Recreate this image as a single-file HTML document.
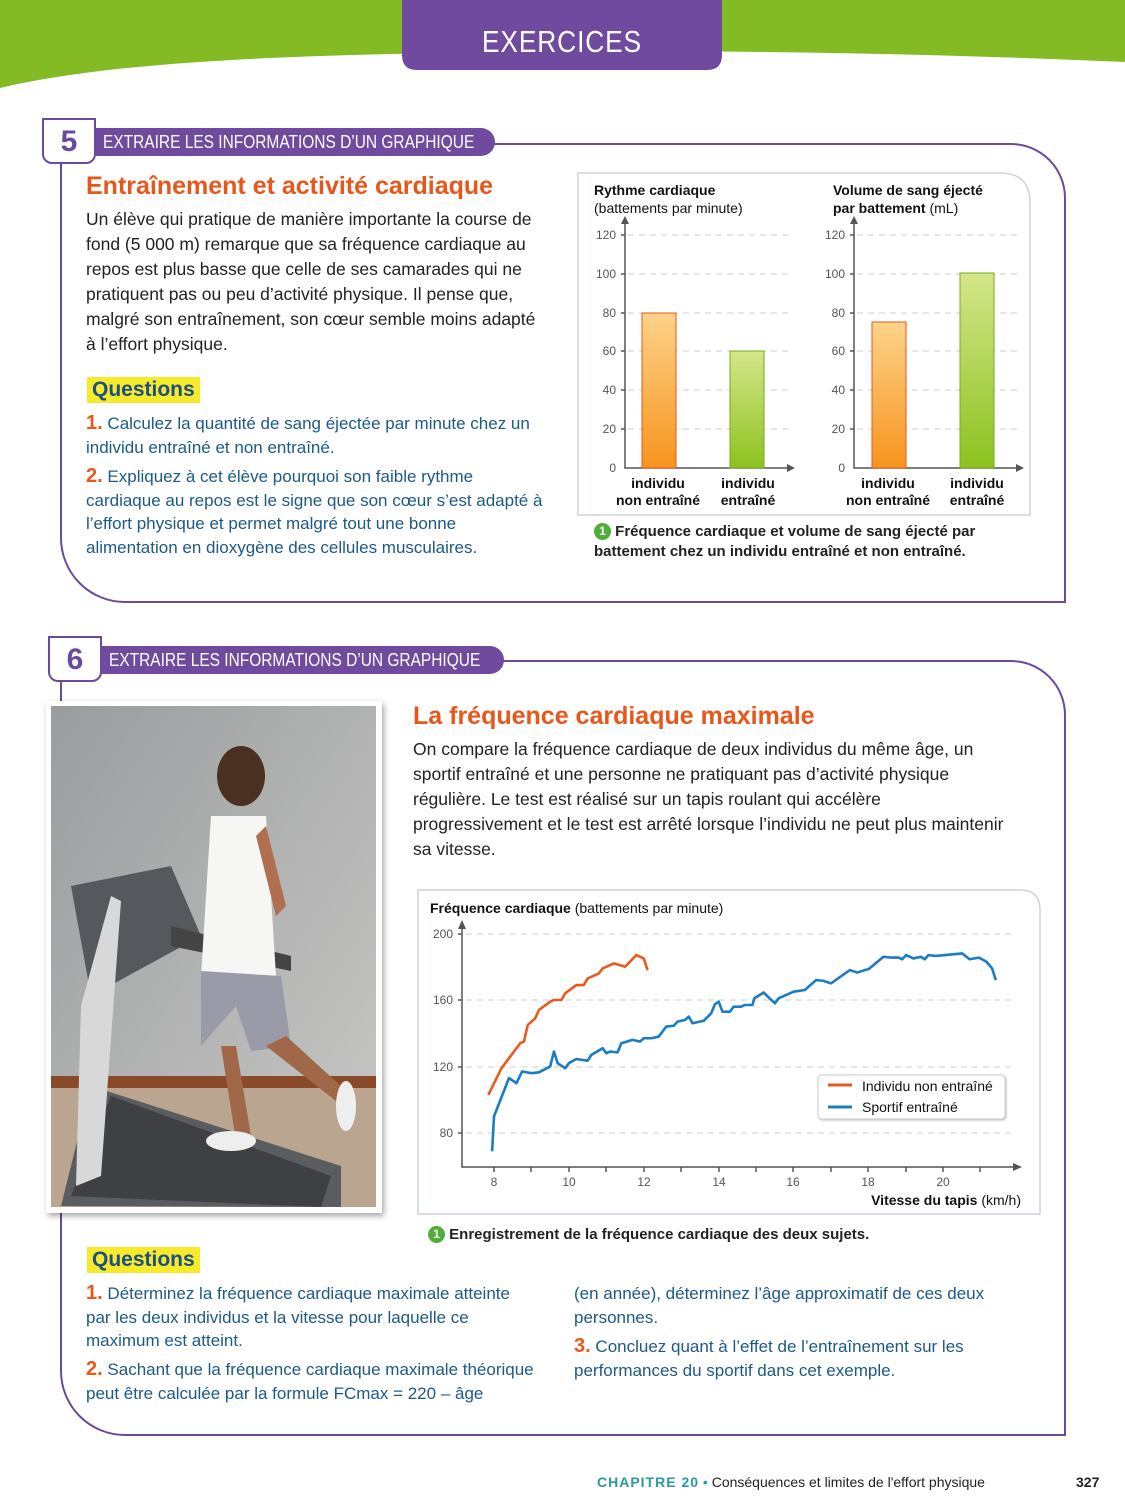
<!DOCTYPE html>
<html><head><meta charset="utf-8"><style>
*{margin:0;padding:0;box-sizing:border-box}
body{width:1125px;height:1500px;position:relative;background:#fff;font-family:"Liberation Sans","DejaVu Sans",sans-serif;overflow:hidden;color:#222}
.abs{position:absolute}
.frame{position:absolute;border:2px solid #6a4a9a}
.num{position:absolute;width:54px;height:46px;border:2px solid #6a4a9a;background:#fff;border-radius:0 0 10px 10px;font:bold 30px "Liberation Sans",sans-serif;color:#6a4a9a;text-align:center;line-height:44px}
.pill{position:absolute;height:28px;background:#6f4a9e;color:#fff;font-size:18px;line-height:28px;padding-left:8px;border-radius:0 14px 14px 0;white-space:nowrap;overflow:hidden}
.pill span{display:inline-block;transform:scaleX(0.86);transform-origin:left center}
.title{position:absolute;color:#e8571a;font:bold 25px "Liberation Sans",sans-serif;white-space:nowrap}
.txt{position:absolute;font-size:17.5px;line-height:25px;color:#222}
.q{position:absolute;font-size:17px;line-height:23.5px;color:#1c5a86}
.q b{color:#e8571a;font-size:20px}
.qh{position:absolute;background:#f6ea2a;color:#1c4f86;font:bold 21px "Liberation Sans",sans-serif;padding:0 5px;height:26px;line-height:26px}
.cap{position:absolute;font-size:15px;font-weight:bold;color:#222;line-height:20px}
.dot{display:inline-block;width:17px;height:17px;border-radius:50%;background:#4fae3a;color:#fff;font-size:12px;text-align:center;line-height:17px;vertical-align:1px}
</style></head><body>
<svg class="abs" style="left:0;top:0" width="1125" height="100">
<path d="M0,0H1125V62C900,52 700,50 500,52 C300,55 120,60 0,88Z" fill="#84bb24"/>
<path d="M402,0H722V55Q722,70 707,70H417Q402,70 402,55Z" fill="#6f4a9e"/>
<text x="562" y="52" text-anchor="middle" fill="#fff" font-family="Liberation Sans" font-size="31" letter-spacing="1" textLength="160" lengthAdjust="spacingAndGlyphs">EXERCICES</text>
</svg>

<div class="frame" style="left:60px;top:143px;width:1006px;height:460px;border-radius:0 55px 0 65px"></div>
<div class="num" style="left:42px;top:118px">5</div>
<div class="pill" style="left:95px;top:128px;width:400px"><span>EXTRAIRE LES INFORMATIONS D’UN GRAPHIQUE</span></div>
<div class="title" style="left:86px;top:172px">Entraînement et activité cardiaque</div>
<div class="txt" style="left:86px;top:207px;width:462px">Un élève qui pratique de manière importante la course de fond (5 000 m) remarque que sa fréquence cardiaque au repos est plus basse que celle de ses camarades qui ne pratiquent pas ou peu d’activité physique. Il pense que, malgré son entraînement, son cœur semble moins adapté à l’effort physique.</div>
<div class="qh" style="left:87px;top:377px">Questions</div>
<div class="q" style="left:86px;top:412px;width:460px"><b>1.</b> Calculez la quantité de sang éjectée par minute chez un individu entraîné et non entraîné.</div>
<div class="q" style="left:86px;top:465px;width:460px"><b>2.</b> Expliquez à cet élève pourquoi son faible rythme cardiaque au repos est le signe que son cœur s’est adapté à l’effort physique et permet malgré tout une bonne alimentation en dioxygène des cellules musculaires.</div>

<svg class="abs" style="left:0;top:0" width="1125" height="600" font-family="Liberation Sans">
<defs>
<linearGradient id="og" x1="0" y1="0" x2="0" y2="1"><stop offset="0" stop-color="#fdd38a"/><stop offset="1" stop-color="#f7941e"/></linearGradient>
<linearGradient id="gg" x1="0" y1="0" x2="0" y2="1"><stop offset="0" stop-color="#d4e68a"/><stop offset="1" stop-color="#8dc21f"/></linearGradient>
</defs>
<path d="M578,173H1000Q1030,173 1030,203V515H578Z" fill="#fff" stroke="#ccd4da" stroke-width="1.5"/>
<g font-size="14" fill="#111">
<text x="594" y="195" font-weight="bold">Rythme cardiaque</text>
<text x="594" y="213">(battements par minute)</text>
<text x="833" y="195" font-weight="bold">Volume de sang éjecté</text>
<text x="833" y="213"><tspan font-weight="bold">par battement</tspan> (mL)</text>
</g>
<g stroke="#ccc" stroke-dasharray="6,5">
<path d="M628,235H790M628,274H790M628,313H790M628,351H790M628,390H790M628,429H790"/>
<path d="M857,235H1020M857,274H1020M857,313H1020M857,351H1020M857,390H1020M857,429H1020"/>
</g>
<g stroke="#555" stroke-width="1.5" fill="none">
<path d="M625,222V468H793M621,235H625M621,274H625M621,313H625M621,351H625M621,390H625M621,429H625"/>
<path d="M854,222V468H1022M850,235H854M850,274H854M850,313H854M850,351H854M850,390H854M850,429H854"/>
</g>
<path d="M621,224L625,216L629,224ZM787,464L795,468L787,472ZM850,224L854,216L858,224ZM1016,464L1024,468L1016,472Z" fill="#555"/>
<g font-size="12" fill="#555" text-anchor="end">
<text x="616" y="239">120</text><text x="616" y="278">100</text><text x="616" y="317">80</text><text x="616" y="355">60</text><text x="616" y="394">40</text><text x="616" y="433">20</text><text x="616" y="472">0</text>
<text x="845" y="239">120</text><text x="845" y="278">100</text><text x="845" y="317">80</text><text x="845" y="355">60</text><text x="845" y="394">40</text><text x="845" y="433">20</text><text x="845" y="472">0</text>
</g>
<rect x="642" y="313" width="34" height="155" fill="url(#og)" stroke="#e8571a"/>
<rect x="730" y="351" width="34" height="117" fill="url(#gg)" stroke="#7aa81a"/>
<rect x="872" y="322" width="34" height="146" fill="url(#og)" stroke="#e8571a"/>
<rect x="960" y="273" width="34" height="195" fill="url(#gg)" stroke="#7aa81a"/>
<g font-size="14" font-weight="bold" fill="#111" text-anchor="middle">
<text x="658" y="488">individu</text><text x="658" y="505">non entraîné</text>
<text x="748" y="488">individu</text><text x="748" y="505">entraîné</text>
<text x="888" y="488">individu</text><text x="888" y="505">non entraîné</text>
<text x="977" y="488">individu</text><text x="977" y="505">entraîné</text>
</g>
</svg>
<div class="cap" style="left:594px;top:522px;width:420px"><span class="dot">1</span> Fréquence cardiaque et volume de sang éjecté par battement chez un individu entraîné et non entraîné.</div>

<div class="frame" style="left:60px;top:660px;width:1006px;height:776px;border-radius:0 55px 0 65px"></div>
<div class="num" style="left:48px;top:636px">6</div>
<div class="pill" style="left:101px;top:646px;width:403px"><span>EXTRAIRE LES INFORMATIONS D’UN GRAPHIQUE</span></div>

<div class="abs" style="left:46px;top:701px;width:336px;height:512px;background:#fff;box-shadow:2px 3px 6px rgba(0,0,0,.35)"></div>
<svg class="abs" style="left:51px;top:706px" width="325" height="501">
<defs><linearGradient id="wall" x1="0" y1="0" x2="1" y2="1"><stop offset="0" stop-color="#9a9c9e"/><stop offset="1" stop-color="#c9c9c6"/></linearGradient></defs>
<rect width="325" height="501" fill="url(#wall)"/>
<rect x="0" y="380" width="325" height="121" fill="#b9a590"/>
<rect x="0" y="370" width="325" height="12" fill="#8a4a2a"/>
<path d="M10,500L40,380L290,460L290,501Z" fill="#5a5c60"/>
<path d="M20,490L60,390L280,470L270,501Z" fill="#3e4044"/>
<path d="M20,180L120,160L150,230L40,290Z" fill="#55585c"/>
<path d="M30,300L60,190L70,195L50,470L25,480Z" fill="#d8d8d8"/>
<path d="M120,220L240,250L240,265L120,240Z" fill="#444"/>
<ellipse cx="190" cy="70" rx="24" ry="30" fill="#4a3020"/>
<path d="M160,110L215,110L225,270L150,270Z" fill="#f6f6f4"/>
<path d="M150,265L230,270L240,340L200,345L185,300L150,340Z" fill="#9a9aa8"/>
<path d="M215,120L235,200L225,210L205,130Z" fill="#b07050"/>
<path d="M170,340L185,340L200,430L185,435Z" fill="#a06848"/>
<path d="M215,340L235,330L290,380L285,395Z" fill="#a06848"/>
<ellipse cx="180" cy="435" rx="25" ry="10" fill="#eee"/>
<ellipse cx="295" cy="400" rx="10" ry="25" fill="#eee"/>
</svg>

<div class="title" style="left:413px;top:702px">La fréquence cardiaque maximale</div>
<div class="txt" style="left:413px;top:737px;width:595px">On compare la fréquence cardiaque de deux individus du même âge, un sportif entraîné et une personne ne pratiquant pas d’activité physique régulière. Le test est réalisé sur un tapis roulant qui accélère progressivement et le test est arrêté lorsque l’individu ne peut plus maintenir sa vitesse.</div>

<svg class="abs" style="left:0;top:0" width="1125" height="1260" font-family="Liberation Sans">
<path d="M418,890H1020Q1040,890 1040,910V1214H418Z" fill="#fff" stroke="#ccd4da" stroke-width="1.5"/>
<text x="430" y="913" font-size="14" fill="#111"><tspan font-weight="bold">Fréquence cardiaque</tspan> (battements par minute)</text>
<g stroke="#ccc" stroke-dasharray="6,5"><path d="M466,934H1015M466,1000H1015M466,1067H1015M466,1133H1015"/></g>
<g stroke="#555" stroke-width="1.5" fill="none">
<path d="M462,927V1167H1015M458,934H462M458,1000H462M458,1067H462M458,1133H462"/>
<path d="M494,1167V1172M531,1167V1172M569,1167V1172M606,1167V1172M644,1167V1172M681,1167V1172M719,1167V1172M756,1167V1172M793,1167V1172M831,1167V1172M868,1167V1172M906,1167V1172M943,1167V1172M980,1167V1172"/>
</g>
<path d="M458,929L462,920L466,929ZM1013,1163L1022,1167L1013,1171Z" fill="#555"/>
<g font-size="12" fill="#555" text-anchor="end"><text x="453" y="938">200</text><text x="453" y="1004">160</text><text x="453" y="1071">120</text><text x="453" y="1137">80</text></g>
<g font-size="12" fill="#555" text-anchor="middle"><text x="494" y="1186">8</text><text x="569" y="1186">10</text><text x="644" y="1186">12</text><text x="719" y="1186">14</text><text x="793" y="1186">16</text><text x="868" y="1186">18</text><text x="943" y="1186">20</text></g>
<text x="1021" y="1205" font-size="14" text-anchor="end" fill="#111"><tspan font-weight="bold">Vitesse du tapis</tspan> (km/h)</text>
<g transform="translate(494,1133) scale(37.45,-1.6625) translate(-8,-80)" fill="none" stroke-width="2.6" stroke-linejoin="round">
<polyline vector-effect="non-scaling-stroke" stroke="#ea5a1e" points="7.85,103 8.2,119 8.5,128 8.7,134 8.8,135 8.9,145 9.1,149 9.2,154 9.5,159 9.6,160 9.8,160 9.9,164 10.2,169 10.4,169 10.5,173 10.8,176 10.9,179 11.2,182 11.5,180 11.8,187 12.0,185 12.1,178"/>
<polyline vector-effect="non-scaling-stroke" stroke="#1a7cc4" points="7.95,69 8.0,90 8.4,113 8.6,110 8.75,117 9,116 9.2,116.5 9.5,120 9.6,129 9.7,122 9.9,119 10,122 10.2,124.5 10.5,123.5 10.6,127 10.9,131 11,128 11.1,129 11.3,128.5 11.4,134 11.7,136 11.9,135 12,137 12.2,137 12.4,138 12.6,144 12.8,144.5 12.9,147 13.1,148 13.2,150 13.3,146 13.6,147.5 13.8,152 13.9,157.5 14.0,159 14.1,153 14.3,153 14.4,156 14.6,156 14.7,157 14.9,157 14.95,161 15.2,164.5 15.5,158 15.6,161 16.0,165 16.3,166 16.6,172 16.8,171.5 17.0,170 17.5,178 17.7,176.5 17.9,178 18.0,178.5 18.4,186 18.6,185.5 18.8,185.5 18.9,184.5 19.0,187 19.2,185 19.4,186 19.5,184.5 19.6,187 19.8,186.5 20.5,188 20.7,184.5 20.95,185.5 21.15,183 21.3,179 21.4,172"/>
</g>
<rect x="818" y="1075" width="187" height="44" rx="4" fill="#fff" stroke="#ccc" filter="drop-shadow(1px 1px 1px rgba(0,0,0,.25))"/>
<path d="M828,1085H852" stroke="#ea5a1e" stroke-width="3"/><path d="M828,1107H852" stroke="#1a7cc4" stroke-width="3"/>
<text x="862" y="1091" font-size="14" fill="#111">Individu non entraîné</text>
<text x="862" y="1112" font-size="14" fill="#111">Sportif entraîné</text>
</svg>
<div class="cap" style="left:428px;top:1225px"><span class="dot">1</span> Enregistrement de la fréquence cardiaque des deux sujets.</div>

<div class="qh" style="left:87px;top:1247px">Questions</div>
<div class="q" style="left:86px;top:1282px;width:445px"><b>1.</b> Déterminez la fréquence cardiaque maximale atteinte par les deux individus et la vitesse pour laquelle ce maximum est atteint.</div>
<div class="q" style="left:86px;top:1358px;width:470px"><b>2.</b> Sachant que la fréquence cardiaque maximale théorique peut être calculée par la formule FCmax = 220 – âge</div>
<div class="q" style="left:574px;top:1282px;width:440px">(en année), déterminez l’âge approximatif de ces deux personnes.</div>
<div class="q" style="left:574px;top:1335px;width:440px"><b>3.</b> Concluez quant à l’effet de l’entraînement sur les performances du sportif dans cet exemple.</div>

<div class="abs" style="left:597px;top:1474px;font-size:14px;color:#222;white-space:nowrap"><span style="color:#2a9aa0;font-weight:bold;letter-spacing:1px">CHAPITRE 20</span> <span style="color:#2a9aa0">•</span> Conséquences et limites de l'effort physique</div>
<div class="abs" style="left:1076px;top:1474px;font-size:14px;font-weight:bold">327</div>
</body></html>
